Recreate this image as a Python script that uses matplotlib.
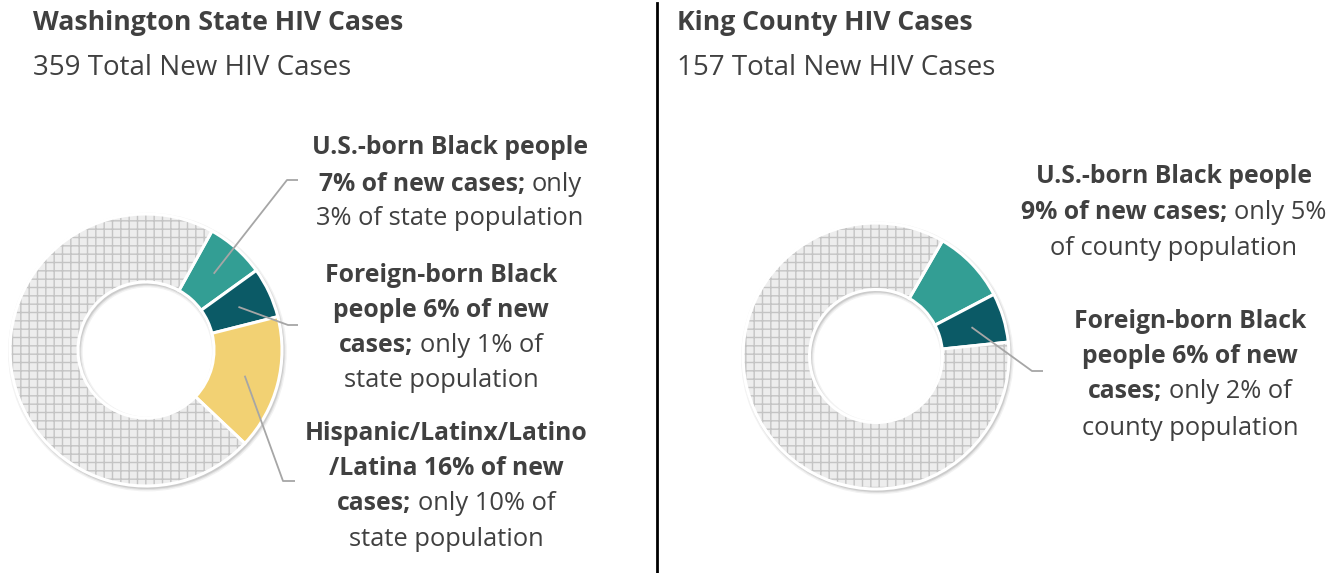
import matplotlib
matplotlib.use("Agg")
import matplotlib.pyplot as plt
from matplotlib.patches import Wedge
import numpy as np

W, H, DPI = 1344, 573, 100
FONT = ["Open Sans", "DejaVu Sans"]
TXT = "#404040"

# ---------------- data ----------------
wa_title = "Washington State HIV Cases"
wa_total = 359
wa_share = [7, 6, 16, 71]          # US-born Black, Foreign-born Black, Hispanic/Latinx, all others
wa_pop = [3, 1, 10]

kc_title = "King County HIV Cases"
kc_total = 157
kc_share = [9, 6, 85]              # US-born Black, Foreign-born Black, all others
kc_pop = [5, 2]

slice_colors = ["#339E94", "#0B5A66", "#F2D173"]
other_face = "#EDEDED"
other_hatch = "#C4C4C4"
plt.rcParams["hatch.linewidth"] = 1.0

B, N = "bold", "normal"
SIZE = {B: 17.8, N: 18.4}
TSIZE = {B: 19.2, N: 20.0}

fig = plt.figure(figsize=(W / DPI, H / DPI), dpi=DPI)
fig.patch.set_facecolor("white")

ov = fig.add_axes([0, 0, 1, 1], zorder=10)
ov.set_xlim(0, W)
ov.set_ylim(H, 0)
ov.axis("off")
renderer = fig.canvas.get_renderer()


def donut(cx, cy, R, shares, start, colors):
    m = 8
    ax = fig.add_axes([(cx - R - m) / W, 1 - (cy + R + m) / H, 2 * (R + m) / W, 2 * (R + m) / H])
    # faint shadow
    for k, a in [(1.025, 0.05), (1.015, 0.07), (1.007, 0.09)]:
        ax.add_patch(Wedge((0.01, -0.015), k, 0, 360, width=0.5 + (k - 1) * 2,
                           facecolor="#000000", alpha=a, linewidth=0))
    wedges, _ = ax.pie(shares, colors=colors + [other_face], startangle=start, counterclock=False,
                       radius=1, wedgeprops=dict(width=0.5, edgecolor="white", linewidth=2.2))
    lim = 1 + m / R
    ax.set_xlim(-lim, lim)
    ax.set_ylim(-lim, lim)
    ax.set_aspect("auto")
    other = wedges[-1]
    other.set_hatch("++")
    other.set_edgecolor(other_hatch)
    other.set_linewidth(0)
    ax.add_patch(Wedge(other.center, other.r, other.theta1, other.theta2, width=other.width,
                       fill=False, edgecolor="white", linewidth=2.2))
    mids = []
    for w in wedges[:-1]:
        a = np.deg2rad((w.theta1 + w.theta2) / 2)
        mids.append((cx + 0.75 * R * np.cos(a), cy - 0.75 * R * np.sin(a)))
    return mids


def measure(s, weight, size):
    t = ov.text(0, 0, s, fontsize=size, fontweight=weight, family=FONT)
    w = t.get_window_extent(renderer).width
    t.remove()
    return w


def rich_line(xc, yb, segs):
    sp = measure("a a", N, SIZE[N]) - measure("aa", N, SIZE[N])
    widths = [measure(s, wt, SIZE[wt]) for s, wt in segs]
    total = sum(widths) + sp * (len(segs) - 1)
    x = xc - total / 2
    for (s, wt), w in zip(segs, widths):
        ov.text(x, yb, s, fontsize=SIZE[wt], fontweight=wt, family=FONT, color=TXT,
                ha="left", va="baseline")
        x += w + sp


def block(xc, baselines, lines):
    for yb, segs in zip(baselines, lines):
        rich_line(xc, yb, segs)


def leader(p0, elbow, end):
    ov.plot([p0[0], elbow[0], end[0]], [p0[1], elbow[1], end[1]], color="#A6A6A6", lw=1.3,
            solid_capstyle="butt")


def heading(x, title, total):
    ov.text(x, 30, title, fontsize=TSIZE[B], fontweight=B, family=FONT, color=TXT, va="baseline")
    ov.text(x, 75, f"{total} Total New HIV Cases", fontsize=TSIZE[N], family=FONT, color=TXT,
            va="baseline")


# ---------------- left panel ----------------
heading(33, wa_title, wa_total)
wa_mids = donut(146, 350, 136, wa_share, 61, slice_colors)

block(450, [154, 191, 225], [
    [("U.S.-born Black people", B)],
    [(f"{wa_share[0]}% of new cases;", B), ("only", N)],
    [(f"{wa_pop[0]}% of state population", N)],
])
block(441, [282, 317, 352, 387], [
    [("Foreign-born Black", B)],
    [(f"people {wa_share[1]}% of new", B)],
    [("cases;", B), (f"only {wa_pop[1]}% of", N)],
    [("state population", N)],
])
block(446, [440, 475, 510, 546], [
    [("Hispanic/Latinx/Latino", B)],
    [(f"/Latina {wa_share[2]}% of new", B)],
    [("cases;", B), (f"only {wa_pop[2]}% of", N)],
    [("state population", N)],
])
leader(wa_mids[0], (287, 180), (298, 180))
leader(wa_mids[1], (288, 325), (298, 325))
leader(wa_mids[2], (283, 481), (295, 481))

# divider
ov.plot([657, 657], [3, H], color="black", lw=2)

# ---------------- right panel ----------------
heading(677, kc_title, kc_total)
kc_mids = donut(876, 356, 133, kc_share, 60, slice_colors[:2])

block(1174, [183, 219, 255], [
    [("U.S.-born Black people", B)],
    [(f"{kc_share[0]}% of new cases;", B), (f"only {kc_pop[0]}%", N)],
    [("of county population", N)],
])
block(1190, [328, 363, 398, 435], [
    [("Foreign-born Black", B)],
    [(f"people {kc_share[1]}% of new", B)],
    [("cases;", B), (f"only {kc_pop[1]}% of", N)],
    [("county population", N)],
])
leader(kc_mids[1], (1032, 371), (1043, 371))

fig.savefig("out.png", dpi=DPI, facecolor="white")
